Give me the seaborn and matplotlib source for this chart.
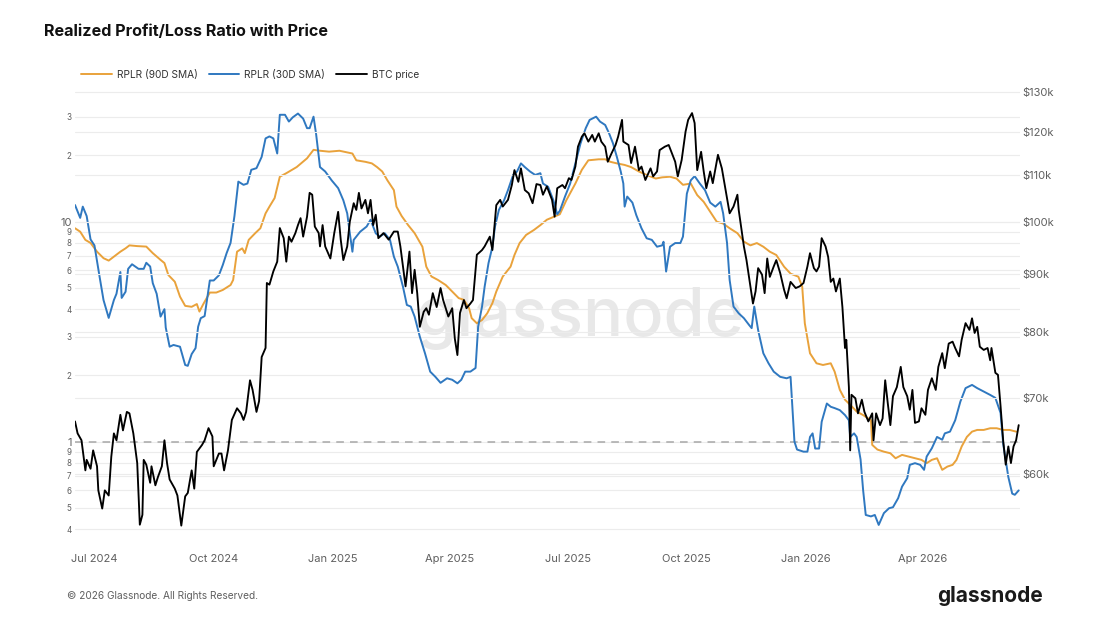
import numpy as np
import pandas as pd
import matplotlib
matplotlib.use("Agg")
import matplotlib.pyplot as plt
import matplotlib.dates as mdates
from matplotlib.ticker import FixedLocator, FixedFormatter, NullLocator
from matplotlib.lines import Line2D
import seaborn as sns


# =============================================================================
# Data (days counted from 2024-07-01)
# =============================================================================

start = pd.Timestamp("2024-07-01")

rplr90_days = [-15, -11, -7, -3, 2, 7, 11, 15, 20, 24, 27, 33, 40, 45, 51, 54, 57, 62, 66, 70,
               75, 79, 81, 84, 89, 94, 99, 105, 107, 110, 114, 116, 119, 124, 128, 132, 135, 139,
               143, 148, 156, 164, 169, 174, 181, 189, 199, 202, 209, 214, 218, 222, 226, 231,
               233, 237, 242, 247, 253, 256, 260, 265, 271, 276, 281, 285, 289, 291, 295, 299,
               303, 307, 310, 315, 321, 324, 328, 333, 339, 344, 349, 354, 359, 364, 371, 376,
               381, 389, 394, 398, 403, 409, 414, 420, 426, 433, 438, 444, 449, 454, 460, 465,
               470, 475, 480, 485, 490, 496, 501, 506, 511, 516, 521, 526, 532, 537, 543, 546,
               548, 552, 557, 562, 568, 571, 575, 579, 583, 588, 593, 599, 600, 604, 609, 614,
               618, 623, 628, 633, 638, 642, 646, 650, 654, 658, 662, 665, 669, 673, 677, 681,
               686, 691, 696, 701, 706, 711]
rplr90 = [9.33, 9.0, 8.26, 8.0, 7.3, 6.82, 6.65, 6.93, 7.3, 7.56, 7.8, 7.74, 7.7, 7.19, 6.7, 6.48,
          5.72, 5.33, 4.56, 4.14, 4.1, 4.22, 3.9, 4.22, 4.76, 4.76, 4.89, 5.15, 5.43, 7.3, 7.56,
          7.19, 8.26, 8.86, 9.33, 10.9, 11.7, 12.8, 16.0, 16.6, 17.7, 19.4, 21.2, 21.0, 20.8,
          21.0, 20.4, 19.0, 18.7, 18.4, 17.7, 16.9, 15.4, 13.9, 11.7, 10.6, 9.64, 8.86, 7.69,
          6.24, 5.63, 5.43, 5.15, 4.81, 4.49, 4.41, 4.04, 3.64, 3.45, 3.57, 3.83, 4.26, 4.81,
          5.63, 6.24, 7.05, 7.99, 8.7, 9.16, 9.64, 10.2, 10.5, 10.8, 12.5, 14.9, 17.2, 19.0,
          19.2, 19.2, 18.7, 18.4, 18.1, 17.7, 16.9, 16.3, 15.7, 15.9, 16.0, 15.7, 14.7, 14.9,
          13.2, 12.3, 11.1, 10.0, 9.8, 9.33, 8.86, 8.11, 7.8, 7.99, 7.69, 7.3, 7.05, 6.24, 5.8,
          5.62, 5.06, 3.45, 2.52, 2.27, 2.23, 2.27, 2.08, 1.72, 1.55, 1.47, 1.37, 1.32, 1.25,
          0.966, 0.92, 0.90, 0.885, 0.84, 0.87, 0.855, 0.84, 0.826, 0.798, 0.826, 0.84, 0.744,
          0.77, 0.784, 0.826, 0.95, 1.05, 1.11, 1.13, 1.13, 1.15, 1.15, 1.13, 1.13, 1.11]

rplr30_days = [-15, -11, -9, -6, -3, 0, 4, 7, 11, 15, 17, 20, 21, 24, 26, 29, 34, 38, 40, 43, 45,
               48, 51, 54, 55, 58, 61, 66, 70, 72, 75, 78, 80, 82, 85, 89, 92, 96, 99, 102, 105,
               108, 111, 115, 118, 121, 125, 129, 132, 135, 138, 141, 143, 147, 150, 153, 157,
               161, 164, 166, 169, 171, 174, 178, 183, 188, 192, 195, 197, 199, 200, 205, 210,
               213, 217, 220, 224, 228, 231, 234, 238, 241, 244, 247, 251, 255, 259, 263, 267,
               272, 276, 280, 283, 286, 290, 294, 296, 299, 301, 304, 307, 309, 312, 316, 319,
               323, 326, 329, 332, 336, 340, 344, 346, 350, 354, 357, 359, 363, 367, 371, 375,
               379, 382, 387, 390, 394, 397, 400, 403, 406, 408, 409, 411, 415, 418, 422, 426,
               430, 434, 438, 439, 441, 444, 448, 452, 454, 457, 460, 463, 467, 471, 475, 479,
               483, 485, 488, 490, 493, 497, 501, 505, 507, 509, 512, 516, 520, 524, 529, 534,
               537, 540, 542, 547, 550, 552, 554, 556, 559, 561, 565, 568, 571, 575, 579, 582,
               583, 586, 588, 591, 593, 595, 599, 602, 605, 609, 613, 616, 620, 623, 627, 629,
               633, 637, 640, 642, 646, 650, 654, 656, 660, 664, 668, 672, 677, 681, 686, 691,
               695, 699, 701, 705, 708, 710, 713]
rplr30 = [11.9, 10.4, 11.7, 10.6, 8.3, 7.8, 5.6, 4.4, 3.65, 4.4, 4.7, 5.9, 4.5, 4.8, 6.1, 6.4,
          6.1, 6.1, 6.5, 6.25, 5.25, 4.7, 3.7, 4.0, 3.3, 2.7, 2.75, 2.7, 2.23, 2.21, 2.5, 2.66,
          3.33, 3.64, 3.72, 5.4, 5.4, 5.7, 6.35, 7.2, 8.0, 10.6, 15.2, 14.7, 14.9, 17.2, 17.5,
          19.7, 23.9, 24.4, 23.9, 20.4, 30.6, 30.6, 28.5, 29.8, 31.0, 29.4, 26.6, 26.6, 30.0,
          25.0, 17.7, 16.9, 15.4, 14.2, 12.5, 10.9, 8.85, 7.3, 8.26, 9.0, 9.5, 10.2, 8.85, 8.55,
          8.85, 8.26, 6.93, 6.24, 5.06, 4.18, 4.11, 3.7, 3.0, 2.52, 2.08, 1.97, 1.85, 1.94, 1.91,
          1.84, 1.91, 2.08, 2.08, 2.16, 3.33, 4.11, 5.06, 6.48, 7.69, 9.5, 11.3, 12.5, 13.9, 16.3,
          16.9, 18.4, 17.7, 16.9, 16.3, 16.6, 14.9, 14.4, 12.5, 10.8, 11.2, 13.0, 14.9, 18.4,
          22.7, 26.6, 29.0, 30.0, 28.5, 27.5, 25.2, 22.7, 19.7, 16.9, 14.9, 11.7, 13.0, 12.2,
          10.7, 9.33, 8.4, 8.26, 7.69, 7.8, 8.1, 5.93, 7.69, 7.99, 7.99, 8.55, 13.4, 15.4, 16.1,
          14.9, 13.9, 12.2, 11.7, 12.3, 10.9, 8.0, 5.43, 4.11, 3.83, 3.64, 3.39, 3.28, 4.11,
          3.21, 2.52, 2.27, 2.08, 1.97, 1.94, 1.97, 1.0, 0.92, 0.90, 0.90, 1.05, 1.09, 0.93, 0.93,
          1.23, 1.49, 1.44, 1.42, 1.39, 1.32, 1.25, 1.05, 1.09, 1.05, 0.83, 0.60, 0.464, 0.457,
          0.464, 0.418, 0.473, 0.498, 0.503, 0.553, 0.624, 0.682, 0.784, 0.798, 0.784, 0.744,
          0.855, 0.933, 1.05, 1.02, 1.09, 1.11, 1.25, 1.52, 1.75, 1.81, 1.75, 1.69, 1.63, 1.58,
          1.35, 0.98, 0.69, 0.58, 0.573, 0.60]

btc_days = [-15, -13, -10, -7, -6, -3, -1, 2, 3, 6, 8, 11, 13, 15, 17, 20, 22, 25, 27, 30, 33,
            35, 37, 38, 40, 43, 44, 47, 49, 52, 54, 56, 58, 62, 64, 67, 70, 72, 75, 77, 79, 83,
            85, 88, 91, 92, 96, 98, 100, 103, 106, 110, 113, 115, 117, 120, 122, 125, 127, 129,
            132, 133, 135, 138, 141, 143, 146, 148, 150, 152, 155, 157, 159, 161, 164, 166, 168,
            170, 173, 174, 176, 178, 182, 185, 188, 190, 192, 195, 197, 200, 202, 204, 206, 209,
            211, 213, 215, 217, 219, 223, 227, 231, 234, 236, 240, 243, 245, 247, 249, 251, 254,
            256, 258, 261, 264, 267, 269, 273, 276, 278, 280, 282, 285, 287, 290, 292, 295, 299,
            301, 305, 307, 310, 313, 315, 319, 322, 324, 327, 329, 332, 335, 338, 341, 344, 346,
            349, 353, 355, 357, 361, 363, 366, 368, 371, 373, 376, 378, 381, 384, 386, 389, 391,
            394, 396, 399, 402, 404, 407, 408, 412, 414, 417, 420, 422, 425, 429, 431, 434, 436,
            440, 443, 445, 448, 450, 453, 456, 458, 461, 463, 465, 468, 470, 472, 475, 477, 481,
            484, 486, 490, 493, 496, 497, 501, 503, 506, 508, 510, 512, 515, 517, 519, 521, 524,
            526, 529, 532, 534, 537, 541, 544, 547, 550, 552, 555, 557, 559, 561, 564, 566, 568,
            570, 572, 575, 577, 579, 580, 582, 583, 584, 587, 589, 592, 594, 597, 600, 601, 603,
            606, 608, 610, 612, 614, 616, 619, 622, 624, 627, 629, 631, 633, 636, 638, 641, 643,
            646, 649, 651, 654, 656, 659, 662, 664, 667, 669, 672, 675, 677, 679, 681, 683, 686,
            689, 691, 692, 695, 697, 699, 701, 703, 705, 707, 709, 711, 713]
btc_k = [66.7, 65.1, 64.2, 60.4, 61.7, 60.6, 62.9, 60.9, 58.0, 55.9, 58.0, 57.4, 62.1, 65.1,
         64.2, 67.6, 65.5, 68.0, 67.8, 65.1, 61.3, 54.1, 55.2, 61.7, 61.1, 58.9, 60.9, 58.6,
         59.6, 60.9, 64.2, 61.3, 59.3, 58.2, 57.4, 54.0, 57.3, 57.7, 60.4, 58.2, 62.7, 63.6,
         64.2, 65.8, 64.7, 60.9, 62.5, 62.5, 60.4, 62.9, 66.9, 68.5, 67.8, 66.9, 68.0, 72.5,
         71.1, 68.0, 69.5, 76.0, 77.4, 88.3, 88.0, 90.4, 92.2, 98.7, 96.7, 92.2, 97.0, 96.0,
         97.7, 99.3, 100.7, 97.0, 101.0, 106.0, 105.6, 99.0, 97.7, 95.1, 99.3, 95.1, 92.8, 97.7,
         102.0, 96.4, 92.5, 95.1, 100.0, 103.8, 102.4, 106.0, 102.7, 104.5, 101.7, 104.5, 99.3,
         101.4, 96.7, 97.7, 96.4, 98.0, 98.0, 95.1, 87.7, 94.1, 86.5, 90.7, 86.5, 80.8, 83.3,
         83.9, 82.8, 86.5, 84.1, 87.4, 85.3, 82.5, 83.9, 78.9, 76.3, 83.1, 85.3, 83.9, 84.7,
         85.3, 93.5, 94.4, 95.1, 97.0, 94.4, 103.4, 104.5, 103.1, 104.5, 107.7, 111.0, 108.4,
         111.4, 106.6, 105.9, 103.8, 107.9, 107.7, 105.6, 107.4, 104.5, 101.0, 107.0, 107.7,
         107.0, 109.2, 108.8, 111.8, 116.4, 118.8, 119.6, 117.6, 119.2, 117.6, 119.6, 117.6,
         116.4, 112.9, 114.9, 116.8, 118.8, 122.9, 117.6, 116.8, 112.6, 116.4, 111.0, 111.8,
         108.8, 111.4, 109.6, 110.7, 115.6, 116.4, 116.8, 115.2, 112.9, 109.6, 113.3, 120.0,
         122.9, 124.6, 122.1, 111.0, 115.2, 110.7, 107.0, 110.7, 108.1, 114.5, 111.4, 108.1,
         101.7, 103.1, 105.6, 102.4, 95.1, 92.5, 87.7, 84.7, 86.8, 91.0, 89.8, 86.5, 92.8, 89.4,
         91.3, 92.5, 90.1, 87.1, 85.6, 88.5, 87.4, 87.7, 88.3, 91.3, 93.8, 91.0, 90.4, 91.3,
         96.7, 95.1, 93.1, 88.5, 89.1, 86.8, 89.1, 84.1, 77.4, 78.7, 71.5, 62.9, 70.4, 69.9,
         67.8, 69.7, 68.0, 66.7, 67.8, 64.2, 67.8, 66.2, 67.1, 72.5, 69.2, 66.2, 70.2, 71.5,
         74.5, 71.5, 70.2, 68.3, 71.1, 66.5, 66.7, 68.5, 67.6, 71.1, 72.8, 71.1, 74.5, 76.6,
         74.3, 78.1, 78.4, 77.4, 76.1, 78.7, 81.4, 80.3, 82.2, 79.8, 80.8, 77.6, 77.1, 77.4,
         75.5, 77.4, 73.6, 73.3, 68.8, 64.2, 61.1, 63.4, 61.3, 63.4, 64.2, 66.2]

ratio_ticks = [0.4, 0.5, 0.6, 0.7, 0.8, 0.9, 1, 2, 3, 4, 5, 6, 7, 8, 9, 10, 20, 30]
ratio_labels = ['4', '5', '6', '7', '8', '9', '1', '2', '3', '4', '5', '6', '7', '8', '9',
                '10', '2', '3']
price_ticks = [60000, 70000, 80000, 90000, 100000, 110000, 120000, 130000]
price_labels = ['$60k', '$70k', '$80k', '$90k', '$100k', '$110k', '$120k', '$130k']

df90 = pd.DataFrame({'date': start + pd.to_timedelta(rplr90_days, unit='D'), 'value': rplr90})
df30 = pd.DataFrame({'date': start + pd.to_timedelta(rplr30_days, unit='D'), 'value': rplr30})
dfbtc = pd.DataFrame({'date': start + pd.to_timedelta(btc_days, unit='D'),
                      'price': np.array(btc_k) * 1000})

c_orange = '#E9A23B'
c_blue = '#2F78C0'
c_grey = '#5f5f5f'

# =============================================================================
# Plot
# =============================================================================

sns.set_theme(style="white")
plt.rcParams['font.family'] = ['Inter', 'DejaVu Sans']

fig = plt.figure(figsize=(11, 6.2), dpi=100)
ax = fig.add_axes([75 / 1100, 1 - 540 / 620, 945 / 1100, 452 / 620])
ax2 = ax.twinx()

ax.set_yscale('log')
ax2.set_yscale('log')

sns.lineplot(data=df90, x='date', y='value', ax=ax, color=c_orange, lw=1.4, zorder=3)
sns.lineplot(data=df30, x='date', y='value', ax=ax, color=c_blue, lw=1.4, zorder=4)
sns.lineplot(data=dfbtc, x='date', y='price', ax=ax2, color='black', lw=1.35, zorder=5)

ax.axhline(1, color='#a8a8a8', lw=1.1, ls=(0, (5, 4)), zorder=2)

ax.set_ylim(0.357, 40.5)
ax2.set_ylim(52450, 131100)
ax.set_xlim(dfbtc['date'].min(), dfbtc['date'].max() + pd.Timedelta(days=1))

ax.yaxis.set_major_locator(FixedLocator(ratio_ticks))
ax.yaxis.set_major_formatter(FixedFormatter(ratio_labels))
ax.yaxis.set_minor_locator(NullLocator())
ax2.yaxis.set_major_locator(FixedLocator(price_ticks))
ax2.yaxis.set_major_formatter(FixedFormatter(price_labels))
ax2.yaxis.set_minor_locator(NullLocator())

ax.xaxis.set_major_locator(mdates.MonthLocator(bymonth=[1, 4, 7, 10]))
ax.xaxis.set_major_formatter(mdates.DateFormatter('%b %Y'))

ax.tick_params(axis='y', length=0, pad=2.5, labelsize=5.8, labelcolor=c_grey)
ax.tick_params(axis='x', length=0, pad=10, labelsize=8, labelcolor=c_grey)
ax2.tick_params(axis='y', length=0, pad=1.5, labelsize=8, labelcolor=c_grey)
for lab in ax.get_yticklabels():
    if lab.get_text() in ('1', '10'):
        lab.set_fontsize(8)

ax.grid(axis='y', color='#ececec', lw=0.8, zorder=0)
ax2.grid(axis='y', color='#ececec', lw=0.8, zorder=0)
ax.set_axisbelow(True)

for a in (ax, ax2):
    for s in a.spines.values():
        s.set_visible(False)
    a.set_xlabel('')
    a.set_ylabel('')

# watermark
ax.text(0.535, 0.49, 'glassnode', transform=ax.transAxes, ha='center', va='center',
        fontsize=48, color='#e8e8e8', fontweight='medium', zorder=1)

# legend
handles = [Line2D([], [], color=c_orange, lw=1.4),
           Line2D([], [], color=c_blue, lw=1.4),
           Line2D([], [], color='black', lw=1.35)]
fig.legend(handles, ['RPLR (90D SMA)', 'RPLR (30D SMA)', 'BTC price'],
           loc='center left', bbox_to_anchor=(72 / 1100, 1 - 75 / 620), ncol=3,
           frameon=False, fontsize=7.3, handlelength=3.0, handletextpad=0.5,
           columnspacing=1.1, labelcolor='#333333')

fig.text(44 / 1100, 1 - 31 / 620, 'Realized Profit/Loss Ratio with Price',
         fontsize=11.6, fontweight='bold', color='#111111', va='center', ha='left')
fig.text(67 / 1100, 1 - 596 / 620, '\u00a9 2026 Glassnode. All Rights Reserved.',
         fontsize=7.3, color=c_grey, va='center', ha='left')
fig.text(990 / 1100, 1 - 596 / 620, 'glassnode', fontsize=15, fontweight='bold',
         color='#1a1a1a', va='center', ha='center')

fig.savefig('out.png', dpi=100)
